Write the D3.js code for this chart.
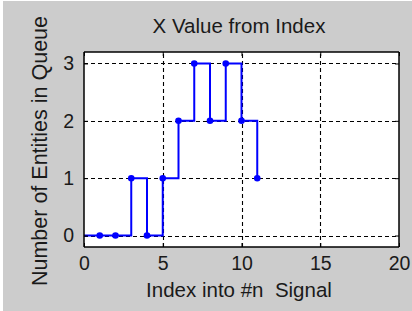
<!DOCTYPE html>
<html><head><meta charset="utf-8">
<script src="https://cdn.jsdelivr.net/npm/d3@7"></script>
<style>
html,body{margin:0;padding:0;background:#fff;}
svg{display:block;}
text{font-family:"Liberation Sans",Arial,sans-serif;fill:#1a1a1a;}
</style></head>
<body>
<script>
// Data
const indexValues = [0, 1, 2, 3, 4, 5, 6, 7, 8, 9, 10, 11];
const queueCounts = [0, 0, 0, 1, 0, 1, 2, 3, 2, 3, 2, 1];
const markerStart = 1; // markers drawn for index >= 1
const xTicks = [0, 5, 10, 15, 20];
const yTicks = [0, 1, 2, 3];
const titleText = "X Value from Index";
const xLabelText = "Index into #n  Signal";
const yLabelText = "Number of Entities in Queue";

const W = 412, H = 311;
const margin = {left: 84, right: 13, top: 52, bottom: 64};
const svg = d3.select("body").append("svg").attr("width", W).attr("height", H);

svg.append("rect").attr("x", 3).attr("y", 1).attr("width", W - 3).attr("height", H - 1).attr("fill", "#cccccc");

const x = d3.scaleLinear().domain([0, 20]).range([margin.left, W - margin.right]);
const y = d3.scaleLinear().domain([-0.2, 3.2]).range([H - margin.bottom, margin.top]);

const pw = x.range()[1] - x.range()[0];
const ph = y.range()[0] - y.range()[1];

svg.append("rect").attr("x", margin.left).attr("y", margin.top).attr("width", pw).attr("height", ph).attr("fill", "#fff");

// grid
const grid = svg.append("g").attr("stroke", "#000").attr("stroke-width", 1.1).attr("stroke-dasharray", "4,3");
grid.selectAll("line.gx").data(xTicks.slice(1, -1)).join("line")
  .attr("x1", d => Math.round(x(d)) + 0.5).attr("x2", d => Math.round(x(d)) + 0.5)
  .attr("y1", y.range()[0]).attr("y2", y.range()[1]);
grid.selectAll("line.gy").data(yTicks).join("line")
  .attr("y1", d => Math.round(y(d)) + 0.5).attr("y2", d => Math.round(y(d)) + 0.5)
  .attr("x1", x.range()[0]).attr("x2", x.range()[1]);

// stairs line
const pts = indexValues.map((v, i) => [v, queueCounts[i]]);
const line = d3.line().x(d => x(d[0])).y(d => y(d[1])).curve(d3.curveStepAfter);
svg.append("path").datum(pts).attr("d", line).attr("fill", "none").attr("stroke", "#0000ff").attr("stroke-width", 2);

svg.append("g").selectAll("circle").data(pts.slice(markerStart)).join("circle")
  .attr("cx", d => x(d[0])).attr("cy", d => y(d[1])).attr("r", 3.3).attr("fill", "#0000ff");

// axes (ticks inward, box)
const xAxisB = d3.axisBottom(x).tickValues(xTicks).tickSize(-4).tickPadding(9).tickFormat(d3.format("d"));
const xAxisT = d3.axisTop(x).tickValues(xTicks).tickSize(-4).tickFormat("");
const yAxisL = d3.axisLeft(y).tickValues(yTicks).tickSize(-4).tickPadding(10).tickFormat(d3.format("d"));
const yAxisR = d3.axisRight(y).tickValues(yTicks).tickSize(-4).tickFormat("");

function style(g){
  g.selectAll("path.domain").attr("stroke", "#000").attr("stroke-width", 1.5);
  g.selectAll(".tick line").attr("stroke", "#000");
  g.selectAll(".tick text").attr("font-size", 19.5).attr("fill", "#1a1a1a").attr("font-family", "Liberation Sans, Arial, sans-serif");
}
svg.append("g").attr("transform", `translate(0,${y.range()[0]})`).call(xAxisB).call(style).selectAll(".domain").attr("d", `M${x.range()[0]},0H${x.range()[1]}`);
svg.append("g").attr("transform", `translate(0,${y.range()[1]})`).call(xAxisT).call(style).selectAll(".domain").attr("d", `M${x.range()[0]},0H${x.range()[1]}`);
svg.append("g").attr("transform", `translate(${x.range()[0]},0)`).call(yAxisL).call(style).selectAll(".domain").attr("d", `M0,${y.range()[0]}V${y.range()[1]}`);
svg.append("g").attr("transform", `translate(${x.range()[1]},0)`).call(yAxisR).call(style).selectAll(".domain").attr("d", `M0,${y.range()[0]}V${y.range()[1]}`);

// labels
svg.append("text").attr("x", 239).attr("y", 33).attr("text-anchor", "middle").attr("font-size", 20.5).text(titleText);
svg.append("text").attr("x", 239).attr("y", 297).attr("text-anchor", "middle").attr("font-size", 20.5)
  .style("white-space", "pre").text(xLabelText);
svg.append("text").attr("transform", "translate(47,151) rotate(-90)").attr("text-anchor", "middle").attr("font-size", 21.5).text(yLabelText);
</script>
</body></html>
